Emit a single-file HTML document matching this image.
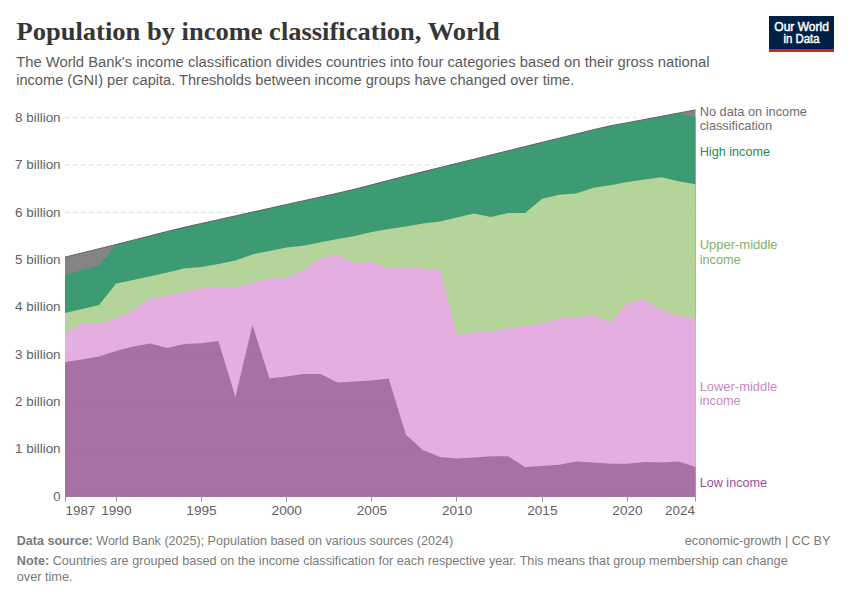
<!DOCTYPE html>
<html>
<head>
<meta charset="utf-8">
<style>
html, body { margin: 0; padding: 0; background: #fff; }
body { width: 850px; height: 600px; overflow: hidden; }
svg { display: block; }
text { font-family: "Liberation Sans", sans-serif; }
.title { font-family: "Liberation Serif", serif; font-weight: bold; font-size: 26px; fill: #363636; }
.sub { font-size: 15.4px; fill: #5b5b5b; }
.ax { font-size: 13.2px; fill: #626262; }
.foot { font-size: 12.9px; fill: #7a7a7a; }
.leg { font-size: 12.6px; }
</style>
</head>
<body>
<svg width="850" height="600" viewBox="0 0 850 600">
<rect width="850" height="600" fill="#fff"/>
<!-- header -->
<text class="title" x="16.6" y="40.3" textLength="483.2" lengthAdjust="spacingAndGlyphs">Population by income classification, World</text>
<text class="sub" x="16.2" y="66.8" textLength="693.3" lengthAdjust="spacingAndGlyphs">The World Bank's income classification divides countries into four categories based on their gross national</text>
<text class="sub" x="16.2" y="84.6" textLength="558.1" lengthAdjust="spacingAndGlyphs">income (GNI) per capita. Thresholds between income groups have changed over time.</text>
<!-- logo -->
<rect x="769" y="16" width="65" height="33" fill="#002147"/>
<rect x="769" y="49" width="65" height="3" fill="#ce261e"/>
<text x="801.6" y="30.8" text-anchor="middle" font-size="12" fill="#fff" stroke="#fff" stroke-width="0.45" textLength="54.6" lengthAdjust="spacingAndGlyphs">Our World</text>
<text x="801.6" y="43" text-anchor="middle" font-size="12" fill="#fff" stroke="#fff" stroke-width="0.45" textLength="36" lengthAdjust="spacingAndGlyphs">in Data</text>
<!-- grid -->
<g stroke="#dddddd" stroke-width="1" stroke-dasharray="4,4" fill="none">
<line x1="65" x2="695.5" y1="449.05" y2="449.05"/>
<line x1="65" x2="695.5" y1="401.7" y2="401.7"/>
<line x1="65" x2="695.5" y1="354.35" y2="354.35"/>
<line x1="65" x2="695.5" y1="307" y2="307"/>
<line x1="65" x2="695.5" y1="259.65" y2="259.65"/>
<line x1="65" x2="695.5" y1="212.3" y2="212.3"/>
<line x1="65" x2="695.5" y1="164.95" y2="164.95"/>
<line x1="65" x2="695.5" y1="117.6" y2="117.6"/>
</g>
<!-- areas -->
<defs><clipPath id="ca"><path d="M65,257.1 L82.04,252.9 L99.08,248.7 L116.12,244.49 L133.16,240.15 L150.2,235.8 L167.24,231.45 L184.28,227.25 L201.32,223.46 L218.36,219.67 L235.41,215.88 L252.45,212.09 L269.49,208.3 L286.53,204.51 L303.57,200.72 L320.61,196.94 L337.65,193.15 L354.69,189.18 L371.73,184.75 L388.77,180.32 L405.81,175.97 L422.85,171.76 L439.89,167.56 L456.93,163.36 L473.97,159.15 L491.01,154.95 L508.05,150.75 L525.09,146.54 L542.14,142.34 L559.18,138.14 L576.22,133.94 L593.26,129.74 L610.3,125.79 L627.34,122.72 L644.38,119.51 L661.42,116.31 L678.46,113.1 L695.5,109.9 L695.5,496.7 L678.46,496.7 L661.42,496.7 L644.38,496.7 L627.34,496.7 L610.3,496.7 L593.26,496.7 L576.22,496.7 L559.18,496.7 L542.14,496.7 L525.09,496.7 L508.05,496.7 L491.01,496.7 L473.97,496.7 L456.93,496.7 L439.89,496.7 L422.85,496.7 L405.81,496.7 L388.77,496.7 L371.73,496.7 L354.69,496.7 L337.65,496.7 L320.61,496.7 L303.57,496.7 L286.53,496.7 L269.49,496.7 L252.45,496.7 L235.41,496.7 L218.36,496.7 L201.32,496.7 L184.28,496.7 L167.24,496.7 L150.2,496.7 L133.16,496.7 L116.12,496.7 L99.08,496.7 L82.04,496.7 L65,496.7 Z"/></clipPath></defs>
<g>
<path fill="#848484" d="M65,257.1 L82.04,252.9 L99.08,248.7 L116.12,244.49 L133.16,240.15 L150.2,235.8 L167.24,231.45 L184.28,227.25 L201.32,223.46 L218.36,219.67 L235.41,215.88 L252.45,212.09 L269.49,208.3 L286.53,204.51 L303.57,200.72 L320.61,196.94 L337.65,193.15 L354.69,189.18 L371.73,184.75 L388.77,180.32 L405.81,175.97 L422.85,171.76 L439.89,167.56 L456.93,163.36 L473.97,159.15 L491.01,154.95 L508.05,150.75 L525.09,146.54 L542.14,142.34 L559.18,138.14 L576.22,133.94 L593.26,129.74 L610.3,125.79 L627.34,122.72 L644.38,119.51 L661.42,116.31 L678.46,113.1 L695.5,109.9 L695.5,496.7 L678.46,496.7 L661.42,496.7 L644.38,496.7 L627.34,496.7 L610.3,496.7 L593.26,496.7 L576.22,496.7 L559.18,496.7 L542.14,496.7 L525.09,496.7 L508.05,496.7 L491.01,496.7 L473.97,496.7 L456.93,496.7 L439.89,496.7 L422.85,496.7 L405.81,496.7 L388.77,496.7 L371.73,496.7 L354.69,496.7 L337.65,496.7 L320.61,496.7 L303.57,496.7 L286.53,496.7 L269.49,496.7 L252.45,496.7 L235.41,496.7 L218.36,496.7 L201.32,496.7 L184.28,496.7 L167.24,496.7 L150.2,496.7 L133.16,496.7 L116.12,496.7 L99.08,496.7 L82.04,496.7 L65,496.7 Z"/>
<path fill="#3d9b73" d="M65,274.9 L82.04,270 L99.08,265.3 L116.12,244.49 L133.16,240.15 L150.2,235.8 L167.24,231.45 L184.28,227.25 L201.32,223.46 L218.36,219.67 L235.41,215.88 L252.45,212.09 L269.49,208.3 L286.53,204.51 L303.57,200.72 L320.61,196.94 L337.65,193.15 L354.69,189.18 L371.73,184.75 L388.77,180.32 L405.81,175.97 L422.85,171.76 L439.89,167.56 L456.93,163.36 L473.97,159.15 L491.01,154.95 L508.05,150.75 L525.09,146.54 L542.14,142.34 L559.18,138.14 L576.22,133.94 L593.26,129.74 L610.3,125.79 L627.34,122.72 L644.38,119.51 L661.42,116.31 L678.46,113.1 L695.5,117.3 L695.5,496.7 L678.46,496.7 L661.42,496.7 L644.38,496.7 L627.34,496.7 L610.3,496.7 L593.26,496.7 L576.22,496.7 L559.18,496.7 L542.14,496.7 L525.09,496.7 L508.05,496.7 L491.01,496.7 L473.97,496.7 L456.93,496.7 L439.89,496.7 L422.85,496.7 L405.81,496.7 L388.77,496.7 L371.73,496.7 L354.69,496.7 L337.65,496.7 L320.61,496.7 L303.57,496.7 L286.53,496.7 L269.49,496.7 L252.45,496.7 L235.41,496.7 L218.36,496.7 L201.32,496.7 L184.28,496.7 L167.24,496.7 L150.2,496.7 L133.16,496.7 L116.12,496.7 L99.08,496.7 L82.04,496.7 L65,496.7 Z"/>
<path fill="#b4d49a" d="M65,313 L82.04,309 L99.08,305 L116.12,283.6 L133.16,280 L150.2,276.2 L167.24,272.4 L184.28,268.4 L201.32,266.9 L218.36,264 L235.41,260.4 L252.45,254.4 L269.49,251 L286.53,247.4 L303.57,245.8 L320.61,242.2 L337.65,239 L354.69,236 L371.73,232 L388.77,229 L405.81,226.6 L422.85,223.4 L439.89,221.4 L456.93,217.6 L473.97,213.6 L491.01,217 L508.05,213 L525.09,213 L542.14,198.8 L559.18,194.8 L576.22,193.6 L593.26,187.8 L610.3,185.2 L627.34,181.9 L644.38,179.5 L661.42,177.2 L678.46,181.2 L695.5,184.2 L695.5,496.7 L678.46,496.7 L661.42,496.7 L644.38,496.7 L627.34,496.7 L610.3,496.7 L593.26,496.7 L576.22,496.7 L559.18,496.7 L542.14,496.7 L525.09,496.7 L508.05,496.7 L491.01,496.7 L473.97,496.7 L456.93,496.7 L439.89,496.7 L422.85,496.7 L405.81,496.7 L388.77,496.7 L371.73,496.7 L354.69,496.7 L337.65,496.7 L320.61,496.7 L303.57,496.7 L286.53,496.7 L269.49,496.7 L252.45,496.7 L235.41,496.7 L218.36,496.7 L201.32,496.7 L184.28,496.7 L167.24,496.7 L150.2,496.7 L133.16,496.7 L116.12,496.7 L99.08,496.7 L82.04,496.7 L65,496.7 Z"/>
<path fill="#e5aee0" d="M65,333 L82.04,324 L99.08,324 L116.12,318.6 L133.16,310 L150.2,298.6 L167.24,296 L184.28,291.4 L201.32,288.2 L218.36,287 L235.41,288 L252.45,282.6 L269.49,278.6 L286.53,278 L303.57,270 L320.61,258.2 L337.65,255 L354.69,263.5 L371.73,261.6 L388.77,268.4 L405.81,266.6 L422.85,268.6 L439.89,269.4 L456.93,335 L473.97,332.4 L491.01,331 L508.05,328.4 L525.09,326 L542.14,323.6 L559.18,318.6 L576.22,317 L593.26,315.6 L610.3,322.3 L627.34,302.9 L644.38,299.8 L661.42,310.1 L678.46,315.6 L695.5,319 L695.5,496.7 L678.46,496.7 L661.42,496.7 L644.38,496.7 L627.34,496.7 L610.3,496.7 L593.26,496.7 L576.22,496.7 L559.18,496.7 L542.14,496.7 L525.09,496.7 L508.05,496.7 L491.01,496.7 L473.97,496.7 L456.93,496.7 L439.89,496.7 L422.85,496.7 L405.81,496.7 L388.77,496.7 L371.73,496.7 L354.69,496.7 L337.65,496.7 L320.61,496.7 L303.57,496.7 L286.53,496.7 L269.49,496.7 L252.45,496.7 L235.41,496.7 L218.36,496.7 L201.32,496.7 L184.28,496.7 L167.24,496.7 L150.2,496.7 L133.16,496.7 L116.12,496.7 L99.08,496.7 L82.04,496.7 L65,496.7 Z"/>
<path fill="#a870a5" d="M65,362 L82.04,359.6 L99.08,356.6 L116.12,351 L133.16,346.6 L150.2,343.6 L167.24,348 L184.28,344 L201.32,343.2 L218.36,341 L235.41,397 L252.45,325 L269.49,378.6 L286.53,376.6 L303.57,374 L320.61,374 L337.65,382.6 L354.69,381.4 L371.73,380.5 L388.77,378.4 L405.81,434.4 L422.85,450 L439.89,457 L456.93,458.4 L473.97,457.4 L491.01,456.2 L508.05,456.2 L525.09,467 L542.14,465.9 L559.18,464.7 L576.22,461.6 L593.26,462.4 L610.3,463.8 L627.34,463.8 L644.38,461.9 L661.42,462.6 L678.46,461.6 L695.5,467 L695.5,496.7 L678.46,496.7 L661.42,496.7 L644.38,496.7 L627.34,496.7 L610.3,496.7 L593.26,496.7 L576.22,496.7 L559.18,496.7 L542.14,496.7 L525.09,496.7 L508.05,496.7 L491.01,496.7 L473.97,496.7 L456.93,496.7 L439.89,496.7 L422.85,496.7 L405.81,496.7 L388.77,496.7 L371.73,496.7 L354.69,496.7 L337.65,496.7 L320.61,496.7 L303.57,496.7 L286.53,496.7 L269.49,496.7 L252.45,496.7 L235.41,496.7 L218.36,496.7 L201.32,496.7 L184.28,496.7 L167.24,496.7 L150.2,496.7 L133.16,496.7 L116.12,496.7 L99.08,496.7 L82.04,496.7 L65,496.7 Z"/>
</g>
<g stroke="#000" stroke-opacity="0.035" stroke-width="1" stroke-dasharray="4,4" fill="none" clip-path="url(#ca)">
<line x1="65" x2="695.5" y1="449.05" y2="449.05"/>
<line x1="65" x2="695.5" y1="401.7" y2="401.7"/>
<line x1="65" x2="695.5" y1="354.35" y2="354.35"/>
<line x1="65" x2="695.5" y1="307" y2="307"/>
<line x1="65" x2="695.5" y1="259.65" y2="259.65"/>
<line x1="65" x2="695.5" y1="212.3" y2="212.3"/>
<line x1="65" x2="695.5" y1="164.95" y2="164.95"/>
<line x1="65" x2="695.5" y1="117.6" y2="117.6"/>
</g>
<line x1="65" x2="695.5" y1="496.2" y2="496.2" stroke="#7d4a7a" stroke-opacity="0.35" stroke-width="0.9"/>
<path d="M65,257.1 L82.04,252.9 L99.08,248.7 L116.12,244.49 L133.16,240.15 L150.2,235.8 L167.24,231.45 L184.28,227.25 L201.32,223.46 L218.36,219.67 L235.41,215.88 L252.45,212.09 L269.49,208.3 L286.53,204.51 L303.57,200.72 L320.61,196.94 L337.65,193.15 L354.69,189.18 L371.73,184.75 L388.77,180.32 L405.81,175.97 L422.85,171.76 L439.89,167.56 L456.93,163.36 L473.97,159.15 L491.01,154.95 L508.05,150.75 L525.09,146.54 L542.14,142.34 L559.18,138.14 L576.22,133.94 L593.26,129.74 L610.3,125.79 L627.34,122.72 L644.38,119.51 L661.42,116.31 L678.46,113.1 L695.5,109.9" fill="none" stroke="#666" stroke-width="1"/>
<!-- axis -->
<g class="ax">
<text x="60.6" y="500.7" text-anchor="end" textLength="7.3" lengthAdjust="spacingAndGlyphs">0</text>
<text x="60.6" y="453.35" text-anchor="end" textLength="45.6" lengthAdjust="spacingAndGlyphs">1 billion</text>
<text x="60.6" y="406" text-anchor="end" textLength="45.6" lengthAdjust="spacingAndGlyphs">2 billion</text>
<text x="60.6" y="358.65" text-anchor="end" textLength="45.6" lengthAdjust="spacingAndGlyphs">3 billion</text>
<text x="60.6" y="311.3" text-anchor="end" textLength="45.6" lengthAdjust="spacingAndGlyphs">4 billion</text>
<text x="60.6" y="263.95" text-anchor="end" textLength="45.6" lengthAdjust="spacingAndGlyphs">5 billion</text>
<text x="60.6" y="216.6" text-anchor="end" textLength="45.6" lengthAdjust="spacingAndGlyphs">6 billion</text>
<text x="60.6" y="169.25" text-anchor="end" textLength="45.6" lengthAdjust="spacingAndGlyphs">7 billion</text>
<text x="60.6" y="121.9" text-anchor="end" textLength="45.6" lengthAdjust="spacingAndGlyphs">8 billion</text>
<text x="65.6" y="514.7" text-anchor="start" textLength="29.6" lengthAdjust="spacingAndGlyphs">1987</text>
<text x="116.32" y="514.7" text-anchor="middle" textLength="30.3" lengthAdjust="spacingAndGlyphs">1990</text>
<text x="201.52" y="514.7" text-anchor="middle" textLength="30.3" lengthAdjust="spacingAndGlyphs">1995</text>
<text x="286.73" y="514.7" text-anchor="middle" textLength="30.3" lengthAdjust="spacingAndGlyphs">2000</text>
<text x="371.93" y="514.7" text-anchor="middle" textLength="30.3" lengthAdjust="spacingAndGlyphs">2005</text>
<text x="457.13" y="514.7" text-anchor="middle" textLength="30.3" lengthAdjust="spacingAndGlyphs">2010</text>
<text x="542.34" y="514.7" text-anchor="middle" textLength="30.3" lengthAdjust="spacingAndGlyphs">2015</text>
<text x="627.54" y="514.7" text-anchor="middle" textLength="30.3" lengthAdjust="spacingAndGlyphs">2020</text>
<text x="694.9" y="514.7" text-anchor="end" textLength="30" lengthAdjust="spacingAndGlyphs">2024</text>
</g>
<g stroke="#999" stroke-width="1">
<line x1="65.5" x2="65.5" y1="496.6" y2="501.7"/>
<line x1="116.5" x2="116.5" y1="496.6" y2="501.7"/>
<line x1="201.5" x2="201.5" y1="496.6" y2="501.7"/>
<line x1="286.5" x2="286.5" y1="496.6" y2="501.7"/>
<line x1="371.5" x2="371.5" y1="496.6" y2="501.7"/>
<line x1="456.5" x2="456.5" y1="496.6" y2="501.7"/>
<line x1="542.5" x2="542.5" y1="496.6" y2="501.7"/>
<line x1="627.5" x2="627.5" y1="496.6" y2="501.7"/>
<line x1="695.5" x2="695.5" y1="496.6" y2="501.7"/>
</g>
<!-- legend -->
<g class="leg">
<text x="699.7" y="116.2" fill="#6e6e6e" textLength="107.3" lengthAdjust="spacingAndGlyphs">No data on income</text>
<text x="699.7" y="130.4" fill="#6e6e6e" textLength="72.3" lengthAdjust="spacingAndGlyphs">classification</text>
<text x="699.7" y="155.8" fill="#278a5d" textLength="70.3" lengthAdjust="spacingAndGlyphs">High income</text>
<text x="699.7" y="249.4" fill="#80b266" textLength="77.9" lengthAdjust="spacingAndGlyphs">Upper-middle</text>
<text x="699.7" y="264" fill="#80b266" textLength="41" lengthAdjust="spacingAndGlyphs">income</text>
<text x="699.7" y="391" fill="#c987c3" textLength="77.5" lengthAdjust="spacingAndGlyphs">Lower-middle</text>
<text x="699.7" y="405" fill="#c987c3" textLength="41" lengthAdjust="spacingAndGlyphs">income</text>
<text x="699.7" y="487.3" fill="#9a4f96" textLength="67.3" lengthAdjust="spacingAndGlyphs">Low income</text>
</g>
<!-- footer -->
<g class="foot">
<text x="16.8" y="545.2" textLength="436.3" lengthAdjust="spacingAndGlyphs"><tspan font-weight="bold">Data source:</tspan> World Bank (2025); Population based on various sources (2024)</text>
<text x="830.5" y="545.2" text-anchor="end" textLength="145.7" lengthAdjust="spacingAndGlyphs">economic-growth | CC BY</text>
<text x="16.8" y="565.4" textLength="770.9" lengthAdjust="spacingAndGlyphs"><tspan font-weight="bold">Note:</tspan> Countries are grouped based on the income classification for each respective year. This means that group membership can change</text>
<text x="16.8" y="580.6" textLength="55.7" lengthAdjust="spacingAndGlyphs">over time.</text>
</g>
</svg>
</body>
</html>
